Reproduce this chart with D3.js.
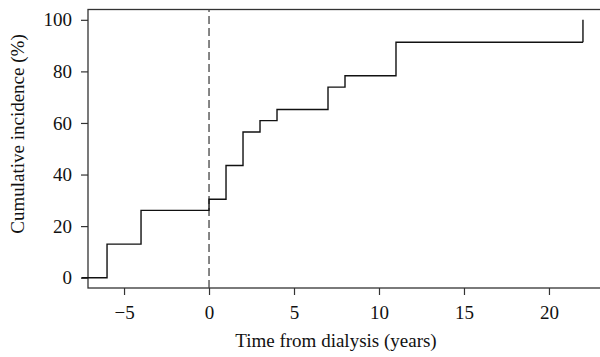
<!DOCTYPE html>
<html>
<head>
<meta charset="utf-8">
<script src="https://cdn.jsdelivr.net/npm/d3@7"></script>
<style>
  body { margin: 0; background: #fff; }
  svg text { font-family: "Liberation Serif", "DejaVu Serif", serif; fill: #111; }
</style>
</head>
<body>
<div id="chart"></div>
<script>
// step curve: event times (years from dialysis) and cumulative incidence (%)
var times = [-7.5, -6, -4, 0, 1, 2, 3, 4, 7, 8, 11, 22];
var incidence = [0, 13.0, 26.1, 30.4, 43.5, 56.5, 60.9, 65.2, 73.9, 78.3, 91.3, 100];
var xTicks = [-5, 0, 5, 10, 15, 20];
var yTicks = [0, 20, 40, 60, 80, 100];

var width = 600, height = 357;
var plotLeft = 88, plotRight = 602, plotTop = 9.5, plotBottom = 288;
var fontSize = 19;

var svg = d3.select("#chart").append("svg")
  .attr("width", width)
  .attr("height", height);

var x = d3.scaleLinear().domain([-7.12, 23.12]).range([plotLeft, plotRight]);
var y = d3.scaleLinear().domain([-4, 104]).range([plotBottom, plotTop]);

// plot box
svg.append("rect")
  .attr("x", plotLeft).attr("y", plotTop)
  .attr("width", plotRight - plotLeft).attr("height", plotBottom - plotTop)
  .attr("fill", "none")
  .attr("stroke", "#333")
  .attr("stroke-width", 1.3);

// x axis
var xAxis = svg.append("g")
  .attr("transform", "translate(0," + plotBottom + ")")
  .call(d3.axisBottom(x).tickValues(xTicks).tickSize(7).tickPadding(11)
    .tickFormat(function(d) { return d < 0 ? "\u2212" + Math.abs(d) : d; }));
xAxis.select(".domain").remove();
xAxis.selectAll("line").attr("stroke", "#333").attr("stroke-width", 1.2);
xAxis.selectAll("text").attr("font-size", fontSize).attr("font-family", "Liberation Serif").attr("fill", "#111");

// y axis
var yAxis = svg.append("g")
  .attr("transform", "translate(" + plotLeft + ",0)")
  .call(d3.axisLeft(y).tickValues(yTicks).tickSize(7).tickPadding(9));
yAxis.select(".domain").remove();
yAxis.selectAll("line").attr("stroke", "#333").attr("stroke-width", 1.2);
yAxis.selectAll("text").attr("font-size", fontSize).attr("font-family", "Liberation Serif").attr("fill", "#111");

// vertical reference at dialysis start
svg.append("line")
  .attr("x1", x(0)).attr("x2", x(0))
  .attr("y1", plotTop).attr("y2", plotBottom)
  .attr("stroke", "#444")
  .attr("stroke-width", 1.3)
  .attr("stroke-dasharray", "8,4")
  .attr("stroke-dashoffset", -6.5);

// step curve
var pts = times.map(function(t, i) { return [t, incidence[i]]; });
var line = d3.line()
  .x(function(d) { return x(d[0]); })
  .y(function(d) { return y(d[1]); })
  .curve(d3.curveStepAfter);

// last point: vertical jump at 22 to 100
var stepPts = pts.slice(0, pts.length - 1);
stepPts.push([times[times.length - 1], incidence[incidence.length - 2]]);
svg.append("path")
  .datum(stepPts)
  .attr("d", line)
  .attr("fill", "none")
  .attr("stroke", "#111")
  .attr("stroke-width", 1.4);
svg.append("line")
  .attr("x1", x(22)).attr("x2", x(22))
  .attr("y1", y(incidence[incidence.length - 2])).attr("y2", y(100))
  .attr("stroke", "#111")
  .attr("stroke-width", 1.4);

// axis titles
svg.append("text")
  .attr("x", 336).attr("y", 347)
  .attr("text-anchor", "middle")
  .attr("font-size", fontSize)
  .text("Time from dialysis (years)");

svg.append("text")
  .attr("transform", "translate(24,134) rotate(-90)")
  .attr("text-anchor", "middle")
  .attr("font-size", fontSize)
  .text("Cumulative incidence (%)");
</script>
</body>
</html>
